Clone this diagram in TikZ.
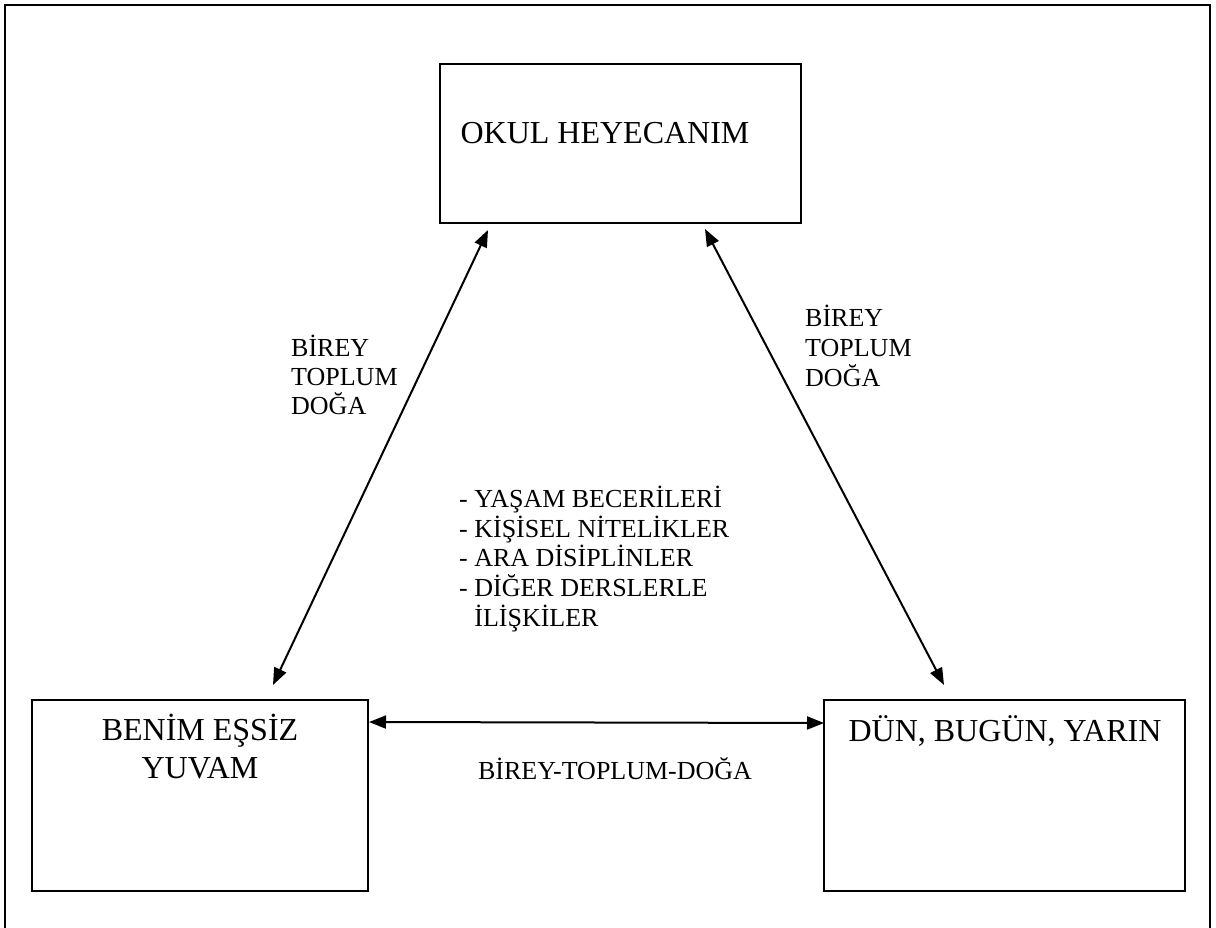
\documentclass[tikz,border=0pt]{standalone}
\usepackage{fontspec}
\setmainfont{Liberation Serif}
\usetikzlibrary{arrows.meta}
\begin{document}
\begin{tikzpicture}[x=1pt,y=-1pt,
  box/.style={draw, line width=2pt, inner sep=0pt, outer sep=0pt},
  big/.style={font=\fontsize{32}{37}\selectfont, inner sep=0pt, anchor=base},
  small/.style={font=\fontsize{26}{30}\selectfont, inner sep=0pt, anchor=base west},
  link/.style={line width=2pt, {Triangle[length=17pt,width=13pt]}-{Triangle[length=17pt,width=13pt]}}]
\useasboundingbox (0,0) rectangle (1216,928);
\draw[line width=2pt] (5,960) -- (5,5) -- (1210,5) -- (1210,960);
% boxes
\node[box, minimum width=361pt, minimum height=159pt] (okul) at (620.5,143.5) {};
\node[box, minimum width=336pt, minimum height=191pt] (yuva) at (200,795.5) {};
\node[box, minimum width=361pt, minimum height=191pt] (dun) at (1004.5,795.5) {};
% box texts
\node[big] (tokul) at (605,144) {OKUL HEYECANIM};
\node[big] (tyuva1) at (200,740) {BENİM EŞSİZ};
\node[big] (tyuva2) at (200,778) {YUVAM};
\node[big] (tdun) at (1005,741) {DÜN, BUGÜN, YARIN};
% arrow end points
\coordinate (a1) at (488,230);
\coordinate (a2) at (273,685);
\coordinate (b1) at (705,229);
\coordinate (b2) at (944,685);
\coordinate (c1) at (369,722);
\coordinate (c2) at (824,723);
\draw[link] (a2) -- (a1);
\draw[link] (b2) -- (b1);
\draw[link] (c1) -- (c2);
% side labels
\node[small] (l1) at (291,356) {BİREY};
\node[small] (l2) at (291,385) {TOPLUM};
\node[small] (l3) at (291,414) {DOĞA};
\node[small] (r1) at (805,326) {BİREY};
\node[small] (r2) at (805,356) {TOPLUM};
\node[small] (r3) at (805,386) {DOĞA};
% middle list
\node[small] (m1) at (459,507) {- YAŞAM BECERİLERİ};
\node[small] (m2) at (459,537) {- KİŞİSEL NİTELİKLER};
\node[small] (m3) at (459,566) {- ARA DİSİPLİNLER};
\node[small] (m4) at (459,596) {- DİĞER DERSLERLE};
\node[small] (m5) at (459,626) {\phantom{- }İLİŞKİLER};
% bottom label
\node[small, anchor=base] (bl) at (615,779) {BİREY-TOPLUM-DOĞA};
\end{tikzpicture}
\end{document}
